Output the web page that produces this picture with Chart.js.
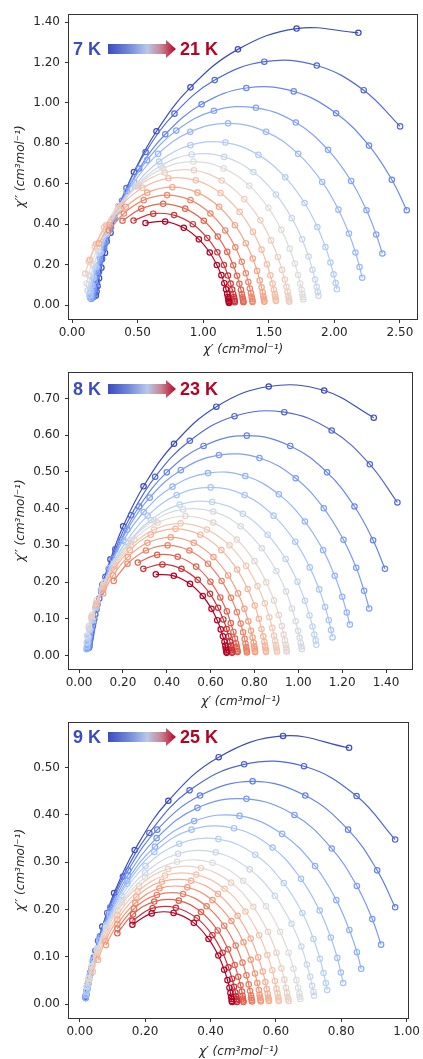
<!DOCTYPE html>
<html>
<head>
<meta charset="utf-8">
<script src="https://cdn.jsdelivr.net/npm/chart.js@4.4.1/dist/chart.umd.min.js"></script>
<style>
    html, body { margin: 0; padding: 0; background: #fff; }
    canvas { position: absolute; left: 0; display: block; }
</style>
</head>
<body>
<canvas id="cole1" width="423" height="360" style="top:0px"></canvas>
<canvas id="cole2" width="423" height="350" style="top:360px"></canvas>
<canvas id="cole3" width="423" height="349" style="top:710px"></canvas>
<script>
'use strict';

// Cole-Cole data, one row per temperature, lowest frequency first.
// chiRe = χ' , chiIm = χ'' (cm3 mol-1)

const temps1 = [7, 8, 9, 10, 11, 12, 13, 14, 15, 16, 17, 18, 19, 20, 21];
const chiRe1 = [
    [2.183, 1.712, 1.265, 0.903, 0.644, 0.472, 0.362, 0.294, 0.251, 0.224, 0.206, 0.195, 0.187, 0.182],
    [2.501, 2.224, 1.866, 1.466, 1.088, 0.781, 0.561, 0.415, 0.323, 0.265, 0.229, 0.206, 0.191, 0.181, 0.174, 0.170],
    [2.552, 2.438, 2.264, 2.013, 1.690, 1.329, 0.988, 0.711, 0.512, 0.381, 0.297, 0.245, 0.212, 0.191, 0.178, 0.169, 0.163, 0.159],
    [2.366, 2.319, 2.245, 2.128, 1.952, 1.706, 1.402, 1.082, 0.795, 0.572, 0.417, 0.316, 0.253, 0.213, 0.188, 0.172, 0.162, 0.155, 0.150, 0.147],
    [2.212, 2.192, 2.161, 2.111, 2.031, 1.907, 1.724, 1.479, 1.190, 0.901, 0.656, 0.473, 0.349, 0.269, 0.219, 0.188, 0.168, 0.156, 0.148, 0.142, 0.138],
    [2.019, 2.010, 1.994, 1.970, 1.932, 1.870, 1.773, 1.626, 1.421, 1.169, 0.903, 0.664, 0.479, 0.350, 0.266, 0.214, 0.181, 0.160, 0.147, 0.138, 0.132],
    [1.879, 1.873, 1.865, 1.853, 1.833, 1.803, 1.754, 1.675, 1.555, 1.383, 1.160, 0.912, 0.677, 0.486, 0.349, 0.259, 0.201, 0.165, 0.143, 0.128, 0.119],
    [1.763, 1.760, 1.756, 1.750, 1.739, 1.724, 1.699, 1.659, 1.596, 1.497, 1.351, 1.155, 0.925, 0.695, 0.499, 0.353, 0.254, 0.191, 0.151, 0.126, 0.111],
    [1.656, 1.654, 1.652, 1.648, 1.643, 1.635, 1.622, 1.601, 1.569, 1.517, 1.436, 1.313, 1.141, 0.930, 0.707, 0.506, 0.351, 0.243, 0.173, 0.128, 0.101],
    [1.555, 1.553, 1.550, 1.546, 1.539, 1.529, 1.512, 1.486, 1.445, 1.379, 1.278, 1.132, 0.944, 0.735, 0.537, 0.376, 0.260, 0.184, 0.135],
    [1.466, 1.465, 1.462, 1.458, 1.453, 1.445, 1.431, 1.411, 1.378, 1.325, 1.242, 1.121, 0.957, 0.765, 0.573, 0.410, 0.288, 0.205],
    [1.376, 1.375, 1.373, 1.369, 1.364, 1.356, 1.344, 1.325, 1.294, 1.245, 1.168, 1.055, 0.903, 0.725, 0.547, 0.395, 0.282],
    [1.307, 1.305, 1.303, 1.300, 1.295, 1.288, 1.276, 1.258, 1.229, 1.183, 1.111, 1.005, 0.863, 0.695, 0.528, 0.385],
    [1.241, 1.240, 1.238, 1.234, 1.229, 1.221, 1.209, 1.189, 1.158, 1.108, 1.031, 0.921, 0.778, 0.619, 0.469],
    [1.197, 1.196, 1.195, 1.192, 1.188, 1.183, 1.174, 1.161, 1.139, 1.104, 1.050, 0.967, 0.852, 0.710, 0.560]
];
const chiIm1 = [
    [1.347, 1.368, 1.265, 1.077, 0.860, 0.658, 0.489, 0.358, 0.258, 0.185, 0.133, 0.094, 0.067, 0.047],
    [0.884, 1.063, 1.185, 1.204, 1.113, 0.947, 0.757, 0.579, 0.430, 0.315, 0.227, 0.163, 0.117, 0.083, 0.059, 0.042],
    [0.469, 0.620, 0.789, 0.949, 1.057, 1.074, 0.993, 0.845, 0.675, 0.516, 0.384, 0.281, 0.203, 0.145, 0.104, 0.074, 0.053, 0.037],
    [0.255, 0.349, 0.469, 0.614, 0.768, 0.903, 0.976, 0.961, 0.863, 0.717, 0.563, 0.427, 0.315, 0.229, 0.165, 0.118, 0.084, 0.060, 0.043, 0.030],
    [0.135, 0.188, 0.260, 0.354, 0.472, 0.609, 0.748, 0.857, 0.899, 0.857, 0.748, 0.609, 0.472, 0.354, 0.260, 0.188, 0.135, 0.097, 0.069, 0.049, 0.035],
    [0.078, 0.109, 0.152, 0.210, 0.287, 0.386, 0.505, 0.632, 0.743, 0.804, 0.791, 0.710, 0.590, 0.464, 0.351, 0.259, 0.189, 0.136, 0.097, 0.069, 0.049],
    [0.046, 0.064, 0.090, 0.126, 0.175, 0.240, 0.325, 0.430, 0.547, 0.658, 0.733, 0.745, 0.689, 0.586, 0.468, 0.358, 0.266, 0.195, 0.141, 0.101, 0.072],
    [0.028, 0.039, 0.055, 0.077, 0.107, 0.149, 0.205, 0.279, 0.372, 0.481, 0.591, 0.676, 0.710, 0.676, 0.591, 0.481, 0.372, 0.279, 0.205, 0.149, 0.107],
    [0.016, 0.023, 0.033, 0.046, 0.065, 0.090, 0.126, 0.174, 0.238, 0.320, 0.419, 0.524, 0.616, 0.667, 0.656, 0.589, 0.490, 0.385, 0.291, 0.215, 0.156],
    [0.020, 0.027, 0.039, 0.054, 0.076, 0.106, 0.147, 0.202, 0.274, 0.362, 0.461, 0.554, 0.617, 0.627, 0.580, 0.494, 0.394, 0.302, 0.224],
    [0.016, 0.023, 0.032, 0.045, 0.063, 0.088, 0.122, 0.169, 0.230, 0.306, 0.395, 0.486, 0.556, 0.583, 0.556, 0.486, 0.395, 0.306],
    [0.015, 0.021, 0.030, 0.042, 0.059, 0.082, 0.114, 0.157, 0.214, 0.286, 0.369, 0.453, 0.519, 0.544, 0.519, 0.453, 0.369],
    [0.014, 0.019, 0.027, 0.038, 0.054, 0.075, 0.105, 0.145, 0.197, 0.263, 0.339, 0.417, 0.477, 0.501, 0.477, 0.417],
    [0.014, 0.020, 0.028, 0.039, 0.055, 0.077, 0.106, 0.146, 0.198, 0.261, 0.332, 0.400, 0.445, 0.452, 0.418],
    [0.010, 0.014, 0.020, 0.028, 0.040, 0.056, 0.078, 0.108, 0.148, 0.198, 0.260, 0.325, 0.382, 0.413, 0.406]
];
const xTicks1 = [0, 0.5, 1.0, 1.5, 2.0, 2.5];
const yTicks1 = [0, 0.2, 0.4, 0.6, 0.8, 1.0, 1.2, 1.4];

const temps2 = [8, 9, 10, 11, 12, 13, 14, 15, 16, 17, 18, 19, 20, 21, 22, 23];
const chiRe2 = [
    [1.344, 1.118, 0.865, 0.626, 0.433, 0.294, 0.201, 0.143, 0.106, 0.083, 0.069, 0.059, 0.053, 0.049, 0.046],
    [1.452, 1.326, 1.152, 0.936, 0.709, 0.505, 0.347, 0.237, 0.165, 0.120, 0.092, 0.074, 0.063, 0.055, 0.050, 0.047, 0.045],
    [1.395, 1.341, 1.256, 1.131, 0.963, 0.765, 0.568, 0.400, 0.274, 0.190, 0.135, 0.101, 0.080, 0.066, 0.058, 0.052, 0.048, 0.046],
    [1.323, 1.300, 1.264, 1.206, 1.116, 0.988, 0.823, 0.638, 0.464, 0.322, 0.220, 0.153, 0.110, 0.083, 0.067, 0.056, 0.049, 0.045, 0.042, 0.040],
    [1.235, 1.221, 1.200, 1.166, 1.113, 1.030, 0.911, 0.758, 0.588, 0.426, 0.295, 0.201, 0.139, 0.100, 0.075, 0.059, 0.049, 0.043, 0.039, 0.036, 0.034],
    [1.156, 1.149, 1.139, 1.122, 1.095, 1.052, 0.986, 0.887, 0.755, 0.600, 0.445, 0.313, 0.214, 0.148, 0.105, 0.078, 0.061, 0.051, 0.044, 0.039, 0.036],
    [1.082, 1.079, 1.073, 1.065, 1.051, 1.030, 0.996, 0.942, 0.860, 0.747, 0.607, 0.459, 0.327, 0.224, 0.153, 0.106, 0.077, 0.059, 0.047, 0.040, 0.035],
    [1.016, 1.014, 1.011, 1.006, 0.999, 0.988, 0.971, 0.944, 0.900, 0.833, 0.737, 0.612, 0.474, 0.342, 0.236, 0.159, 0.109, 0.077, 0.056, 0.044, 0.036],
    [0.947, 0.946, 0.945, 0.942, 0.939, 0.933, 0.925, 0.911, 0.889, 0.854, 0.800, 0.719, 0.612, 0.485, 0.358, 0.251, 0.170, 0.116, 0.081, 0.059, 0.045],
    [0.903, 0.902, 0.900, 0.898, 0.894, 0.889, 0.881, 0.868, 0.847, 0.814, 0.762, 0.686, 0.583, 0.463, 0.342, 0.239, 0.163, 0.111, 0.078, 0.057],
    [0.853, 0.852, 0.850, 0.848, 0.845, 0.840, 0.832, 0.820, 0.801, 0.769, 0.721, 0.649, 0.553, 0.440, 0.327, 0.231, 0.159, 0.111, 0.079],
    [0.803, 0.802, 0.801, 0.799, 0.796, 0.791, 0.784, 0.772, 0.754, 0.725, 0.680, 0.613, 0.523, 0.418, 0.312, 0.222, 0.155, 0.110],
    [0.766, 0.765, 0.764, 0.762, 0.759, 0.755, 0.748, 0.737, 0.720, 0.693, 0.650, 0.588, 0.503, 0.404, 0.305, 0.221, 0.158],
    [0.723, 0.722, 0.721, 0.719, 0.716, 0.711, 0.704, 0.692, 0.674, 0.644, 0.599, 0.534, 0.450, 0.356, 0.268],
    [0.698, 0.698, 0.696, 0.695, 0.692, 0.688, 0.682, 0.673, 0.658, 0.634, 0.597, 0.541, 0.467, 0.380, 0.293],
    [0.673, 0.672, 0.671, 0.669, 0.667, 0.663, 0.656, 0.646, 0.630, 0.604, 0.564, 0.506, 0.432, 0.350]
];
const chiIm2 = [
    [0.648, 0.722, 0.733, 0.678, 0.577, 0.461, 0.352, 0.262, 0.192, 0.138, 0.099, 0.071, 0.050, 0.036, 0.025],
    [0.417, 0.521, 0.613, 0.663, 0.652, 0.585, 0.487, 0.382, 0.289, 0.214, 0.155, 0.112, 0.080, 0.057, 0.041, 0.029, 0.021],
    [0.236, 0.314, 0.406, 0.499, 0.571, 0.599, 0.571, 0.499, 0.406, 0.314, 0.236, 0.173, 0.126, 0.090, 0.065, 0.046, 0.033, 0.023],
    [0.128, 0.176, 0.239, 0.315, 0.401, 0.483, 0.538, 0.546, 0.505, 0.430, 0.343, 0.263, 0.195, 0.143, 0.103, 0.074, 0.053, 0.038, 0.027, 0.019],
    [0.084, 0.117, 0.160, 0.217, 0.287, 0.365, 0.439, 0.489, 0.497, 0.460, 0.391, 0.313, 0.239, 0.178, 0.130, 0.094, 0.067, 0.048, 0.034, 0.024, 0.017],
    [0.049, 0.069, 0.096, 0.132, 0.180, 0.240, 0.310, 0.381, 0.437, 0.458, 0.437, 0.381, 0.310, 0.240, 0.180, 0.132, 0.096, 0.069, 0.049, 0.035, 0.025],
    [0.029, 0.041, 0.057, 0.079, 0.109, 0.149, 0.201, 0.263, 0.329, 0.386, 0.418, 0.411, 0.369, 0.307, 0.241, 0.183, 0.135, 0.098, 0.071, 0.051, 0.036],
    [0.017, 0.024, 0.034, 0.048, 0.067, 0.093, 0.128, 0.174, 0.230, 0.292, 0.352, 0.392, 0.398, 0.368, 0.313, 0.250, 0.191, 0.142, 0.104, 0.075, 0.054],
    [0.010, 0.015, 0.021, 0.029, 0.041, 0.057, 0.080, 0.110, 0.150, 0.199, 0.257, 0.316, 0.362, 0.380, 0.362, 0.316, 0.257, 0.199, 0.150, 0.110, 0.080],
    [0.010, 0.014, 0.020, 0.028, 0.039, 0.054, 0.075, 0.104, 0.142, 0.189, 0.244, 0.300, 0.343, 0.360, 0.343, 0.300, 0.244, 0.189, 0.142, 0.104],
    [0.009, 0.013, 0.019, 0.027, 0.037, 0.052, 0.072, 0.100, 0.136, 0.181, 0.234, 0.287, 0.329, 0.345, 0.329, 0.287, 0.234, 0.181, 0.136],
    [0.009, 0.013, 0.018, 0.025, 0.035, 0.049, 0.067, 0.093, 0.127, 0.169, 0.218, 0.268, 0.307, 0.322, 0.307, 0.268, 0.218, 0.169],
    [0.008, 0.012, 0.016, 0.023, 0.032, 0.045, 0.063, 0.087, 0.118, 0.157, 0.203, 0.250, 0.286, 0.300, 0.286, 0.250, 0.203],
    [0.009, 0.012, 0.017, 0.024, 0.033, 0.046, 0.064, 0.088, 0.120, 0.158, 0.201, 0.242, 0.269, 0.274, 0.253],
    [0.007, 0.010, 0.014, 0.019, 0.027, 0.037, 0.052, 0.072, 0.098, 0.130, 0.168, 0.206, 0.236, 0.248, 0.236],
    [0.007, 0.010, 0.014, 0.019, 0.027, 0.037, 0.052, 0.071, 0.096, 0.127, 0.162, 0.195, 0.217, 0.221]
];
const xTicks2 = [0, 0.2, 0.4, 0.6, 0.8, 1.0, 1.2, 1.4];
const yTicks2 = [0, 0.1, 0.2, 0.3, 0.4, 0.5, 0.6, 0.7];

const temps3 = [9, 10, 11, 12, 13, 14, 15, 16, 17, 18, 19, 20, 21, 22, 23, 24, 25];
const chiRe3 = [
    [0.824, 0.622, 0.425, 0.271, 0.168, 0.105, 0.069, 0.048, 0.035, 0.028, 0.023, 0.020, 0.018],
    [0.965, 0.847, 0.686, 0.503, 0.336, 0.213, 0.132, 0.084, 0.056, 0.040, 0.031, 0.025, 0.021, 0.019],
    [0.965, 0.910, 0.821, 0.690, 0.529, 0.368, 0.237, 0.148, 0.093, 0.062, 0.043, 0.032, 0.026, 0.022, 0.020, 0.018],
    [0.922, 0.895, 0.848, 0.771, 0.657, 0.510, 0.360, 0.235, 0.147, 0.093, 0.061, 0.043, 0.032, 0.026, 0.022, 0.019, 0.018],
    [0.861, 0.848, 0.825, 0.785, 0.720, 0.619, 0.489, 0.350, 0.230, 0.145, 0.092, 0.061, 0.042, 0.032, 0.025, 0.022, 0.019, 0.018],
    [0.806, 0.799, 0.788, 0.768, 0.734, 0.677, 0.590, 0.472, 0.342, 0.228, 0.145, 0.092, 0.060, 0.042, 0.032, 0.025, 0.022, 0.019],
    [0.757, 0.753, 0.746, 0.735, 0.715, 0.681, 0.624, 0.537, 0.424, 0.304, 0.201, 0.128, 0.081, 0.054, 0.039, 0.030, 0.024, 0.021],
    [0.717, 0.715, 0.711, 0.705, 0.695, 0.678, 0.648, 0.597, 0.520, 0.416, 0.301, 0.200, 0.127, 0.080, 0.052, 0.036, 0.027, 0.021],
    [0.675, 0.673, 0.672, 0.668, 0.663, 0.654, 0.639, 0.613, 0.570, 0.500, 0.406, 0.298, 0.200, 0.128, 0.081, 0.053, 0.036, 0.027],
    [0.639, 0.638, 0.636, 0.634, 0.631, 0.626, 0.617, 0.602, 0.576, 0.531, 0.463, 0.371, 0.270, 0.181, 0.116, 0.075, 0.050, 0.036, 0.028],
    [0.609, 0.608, 0.607, 0.605, 0.602, 0.597, 0.589, 0.574, 0.549, 0.507, 0.443, 0.356, 0.261, 0.177, 0.115, 0.077, 0.053, 0.040],
    [0.579, 0.578, 0.577, 0.575, 0.572, 0.568, 0.560, 0.546, 0.523, 0.483, 0.423, 0.341, 0.251, 0.173, 0.115, 0.078, 0.056],
    [0.554, 0.553, 0.552, 0.550, 0.548, 0.543, 0.536, 0.523, 0.501, 0.464, 0.406, 0.329, 0.244, 0.170, 0.115, 0.080],
    [0.527, 0.526, 0.525, 0.524, 0.521, 0.517, 0.510, 0.498, 0.477, 0.442, 0.388, 0.316, 0.236, 0.166, 0.115],
    [0.501, 0.500, 0.499, 0.498, 0.496, 0.492, 0.485, 0.474, 0.454, 0.422, 0.371, 0.303, 0.228, 0.163, 0.115],
    [0.481, 0.480, 0.480, 0.478, 0.476, 0.472, 0.466, 0.455, 0.437, 0.406, 0.358, 0.294, 0.223, 0.161],
    [0.466, 0.465, 0.465, 0.463, 0.461, 0.458, 0.452, 0.442, 0.424, 0.394, 0.349, 0.287, 0.220, 0.161]
];
const chiIm3 = [
    [0.542, 0.567, 0.522, 0.430, 0.326, 0.235, 0.164, 0.113, 0.077, 0.052, 0.035, 0.023, 0.016],
    [0.348, 0.440, 0.503, 0.507, 0.452, 0.362, 0.270, 0.193, 0.134, 0.092, 0.062, 0.042, 0.028, 0.019],
    [0.205, 0.283, 0.369, 0.441, 0.471, 0.441, 0.369, 0.283, 0.205, 0.144, 0.099, 0.067, 0.045, 0.031, 0.020, 0.014],
    [0.126, 0.180, 0.250, 0.329, 0.400, 0.434, 0.415, 0.351, 0.272, 0.198, 0.140, 0.096, 0.066, 0.044, 0.030, 0.020, 0.013],
    [0.075, 0.110, 0.157, 0.220, 0.292, 0.360, 0.398, 0.387, 0.333, 0.261, 0.191, 0.135, 0.093, 0.064, 0.043, 0.029, 0.019, 0.013],
    [0.045, 0.067, 0.098, 0.141, 0.198, 0.265, 0.331, 0.372, 0.369, 0.322, 0.255, 0.189, 0.134, 0.093, 0.063, 0.043, 0.029, 0.020],
    [0.030, 0.045, 0.066, 0.096, 0.138, 0.193, 0.256, 0.316, 0.349, 0.339, 0.292, 0.229, 0.168, 0.119, 0.082, 0.056, 0.038, 0.026],
    [0.018, 0.026, 0.039, 0.058, 0.084, 0.122, 0.170, 0.229, 0.285, 0.321, 0.318, 0.278, 0.220, 0.163, 0.116, 0.080, 0.055, 0.037],
    [0.011, 0.016, 0.023, 0.035, 0.051, 0.075, 0.109, 0.153, 0.207, 0.261, 0.299, 0.301, 0.268, 0.215, 0.160, 0.114, 0.079, 0.054],
    [0.007, 0.011, 0.016, 0.024, 0.035, 0.052, 0.076, 0.109, 0.153, 0.206, 0.257, 0.288, 0.286, 0.250, 0.198, 0.146, 0.104, 0.072, 0.049],
    [0.007, 0.010, 0.015, 0.023, 0.033, 0.049, 0.072, 0.104, 0.146, 0.196, 0.244, 0.274, 0.272, 0.238, 0.188, 0.139, 0.099, 0.069],
    [0.007, 0.010, 0.014, 0.022, 0.032, 0.047, 0.069, 0.099, 0.139, 0.187, 0.233, 0.261, 0.259, 0.227, 0.179, 0.133, 0.094],
    [0.006, 0.009, 0.014, 0.020, 0.030, 0.045, 0.065, 0.094, 0.131, 0.176, 0.220, 0.247, 0.245, 0.214, 0.169, 0.125],
    [0.006, 0.009, 0.013, 0.019, 0.028, 0.042, 0.061, 0.088, 0.124, 0.166, 0.207, 0.233, 0.231, 0.202, 0.160],
    [0.005, 0.008, 0.012, 0.018, 0.027, 0.040, 0.058, 0.083, 0.116, 0.156, 0.195, 0.219, 0.217, 0.190, 0.150],
    [0.005, 0.008, 0.011, 0.017, 0.025, 0.037, 0.054, 0.078, 0.109, 0.146, 0.182, 0.204, 0.203, 0.177],
    [0.005, 0.007, 0.011, 0.016, 0.024, 0.035, 0.051, 0.073, 0.103, 0.138, 0.172, 0.193, 0.192, 0.168]
];
const xTicks3 = [0, 0.2, 0.4, 0.6, 0.8, 1.0];
const yTicks3 = [0, 0.1, 0.2, 0.3, 0.4, 0.5];

(function () {
    const AXIS_COLOR = '#333333';
    const TEXT_COLOR = '#262626';
    const COLD = '#3b4cc0';
    const HOT = '#b40426';

    // coolwarm colormap anchors
    const COOLWARM = [
        [0.0, [59, 76, 192]],
        [0.125, [98, 130, 234]],
        [0.25, [141, 176, 254]],
        [0.375, [184, 208, 243]],
        [0.5, [221, 221, 221]],
        [0.625, [245, 196, 173]],
        [0.75, [244, 154, 123]],
        [0.875, [222, 96, 77]],
        [1.0, [180, 4, 38]]
    ];

    function coolwarm(t) {
        for (let i = 1; i < COOLWARM.length; i++) {
            const [t1, c1] = COOLWARM[i];
            const [t0, c0] = COOLWARM[i - 1];
            if (t <= t1) {
                const f = (t - t0) / (t1 - t0);
                const c = c0.map((v, k) => Math.round(v + (c1[k] - v) * f));
                return `rgb(${c[0]},${c[1]},${c[2]})`;
            }
        }
        return 'rgb(180,4,38)';
    }

    // full box around the plot area, like matplotlib spines
    const framePlugin = {
        id: 'frame',
        afterDatasetsDraw(chart) {
            const { ctx, chartArea: a } = chart;
            ctx.save();
            ctx.strokeStyle = AXIS_COLOR;
            ctx.lineWidth = 1;
            ctx.strokeRect(Math.round(a.left) - 0.5, Math.round(a.top) + 0.5,
                Math.round(a.right - a.left), Math.round(a.bottom - a.top));
            ctx.restore();
        }
    };

    // "7 K ──▶ 21 K" temperature key in the upper left corner
    const keyPlugin = {
        id: 'tempKey',
        afterDraw(chart, args, opts) {
            const ctx = chart.ctx;
            const y = opts.y;
            ctx.save();
            ctx.font = 'bold 18px "Liberation Sans", Arial, sans-serif';
            ctx.textBaseline = 'middle';
            ctx.fillStyle = COLD;
            ctx.fillText(opts.from, 73, y + 1);

            const g = ctx.createLinearGradient(108, 0, 176, 0);
            g.addColorStop(0, '#3b4cc0');
            g.addColorStop(0.3, '#7088d8');
            g.addColorStop(0.58, '#b8c7ea');
            g.addColorStop(0.78, '#c98592');
            g.addColorStop(1, '#b40426');
            ctx.fillStyle = g;
            ctx.beginPath();
            ctx.moveTo(108, y - 5);
            ctx.lineTo(166, y - 5);
            ctx.lineTo(166, y - 9);
            ctx.lineTo(176, y);
            ctx.lineTo(166, y + 9);
            ctx.lineTo(166, y + 5);
            ctx.lineTo(108, y + 5);
            ctx.closePath();
            ctx.fill();

            ctx.fillStyle = HOT;
            ctx.fillText(opts.to, 180, y + 1);
            ctx.restore();
        }
    };

    function axisTitle(text, pad) {
        return {
            display: true,
            text,
            color: TEXT_COLOR,
            font: { family: 'DejaVu Sans', size: 12, style: 'italic' },
            padding: pad
        };
    }

    function makeAxis(range, ticks, extra) {
        return Object.assign({
            type: 'linear',
            min: range[0],
            max: range[1],
            afterBuildTicks: scale => { scale.ticks = ticks.map(v => ({ value: v })); },
            ticks: {
                color: TEXT_COLOR,
                font: { family: 'DejaVu Sans', size: 12 },
                autoSkip: false,
                maxRotation: 0,
                callback: v => Number(v).toFixed(2)
            },
            grid: { drawOnChartArea: false, tickLength: 4, color: AXIS_COLOR, tickWidth: 1 },
            border: { display: false }
        }, extra);
    }

    function createColeCole(p) {
        const n = p.temps.length;
        const datasets = [];
        // hottest curve first so that it is painted on top
        for (let i = n - 1; i >= 0; i--) {
            const color = coolwarm(i / (n - 1));
            datasets.push({
                label: p.temps[i] + ' K',
                data: p.re[i].map((x, j) => ({ x, y: p.im[i][j] })),
                showLine: true,
                borderColor: color,
                borderWidth: 1.2,
                tension: 0.4,
                pointRadius: 2.7,
                pointBorderWidth: 1.2,
                pointBorderColor: color,
                pointBackgroundColor: 'rgba(0,0,0,0)'
            });
        }

        const xAxis = makeAxis(p.x, p.xTicks, {
            afterFit: scale => { scale.height = 41; },
            title: axisTitle('χ′ (cm³mol⁻¹)', { top: 0, bottom: p.xTitlePad })
        });
        xAxis.ticks.padding = 3;
        const yAxis = makeAxis(p.y, p.yTicks, {
            afterFit: scale => { scale.width = 69; },
            title: axisTitle('χ′′ (cm³mol⁻¹)', { top: 14, bottom: 0 })
        });
        yAxis.ticks.padding = 5;

        return new Chart(document.getElementById(p.id), {
            type: 'scatter',
            data: { datasets },
            options: {
                responsive: false,
                animation: false,
                devicePixelRatio: 1,
                layout: { padding: { top: p.pad.top, right: p.pad.right, left: 0, bottom: 0 } },
                plugins: {
                    legend: { display: false },
                    tooltip: { enabled: false },
                    tempKey: { from: p.temps[0] + ' K', to: p.temps[n - 1] + ' K', y: p.keyY }
                },
                scales: { x: xAxis, y: yAxis }
            },
            plugins: [framePlugin, keyPlugin]
        });
    }

    createColeCole({
        id: 'cole1', temps: temps1, re: chiRe1, im: chiIm1, xTicks: xTicks1, yTicks: yTicks1,
        x: [-0.023, 2.636], y: [-0.069, 1.44], pad: { top: 14, right: 3 }, xTitlePad: 3, keyY: 49
    });
    createColeCole({
        id: 'cole2', temps: temps2, re: chiRe2, im: chiIm2, xTicks: xTicks2, yTicks: yTicks2,
        x: [-0.046, 1.523], y: [-0.037, 0.772], pad: { top: 5, right: 10 }, xTitlePad: 1, keyY: 29
    });
    createColeCole({
        id: 'cole3', temps: temps3, re: chiRe3, im: chiIm3, xTicks: xTicks3, yTicks: yTicks3,
        x: [-0.033, 1.006], y: [-0.029, 0.596], pad: { top: 2, right: 11 }, xTitlePad: 0, keyY: 27
    });
})();
</script>
</body>
</html>
